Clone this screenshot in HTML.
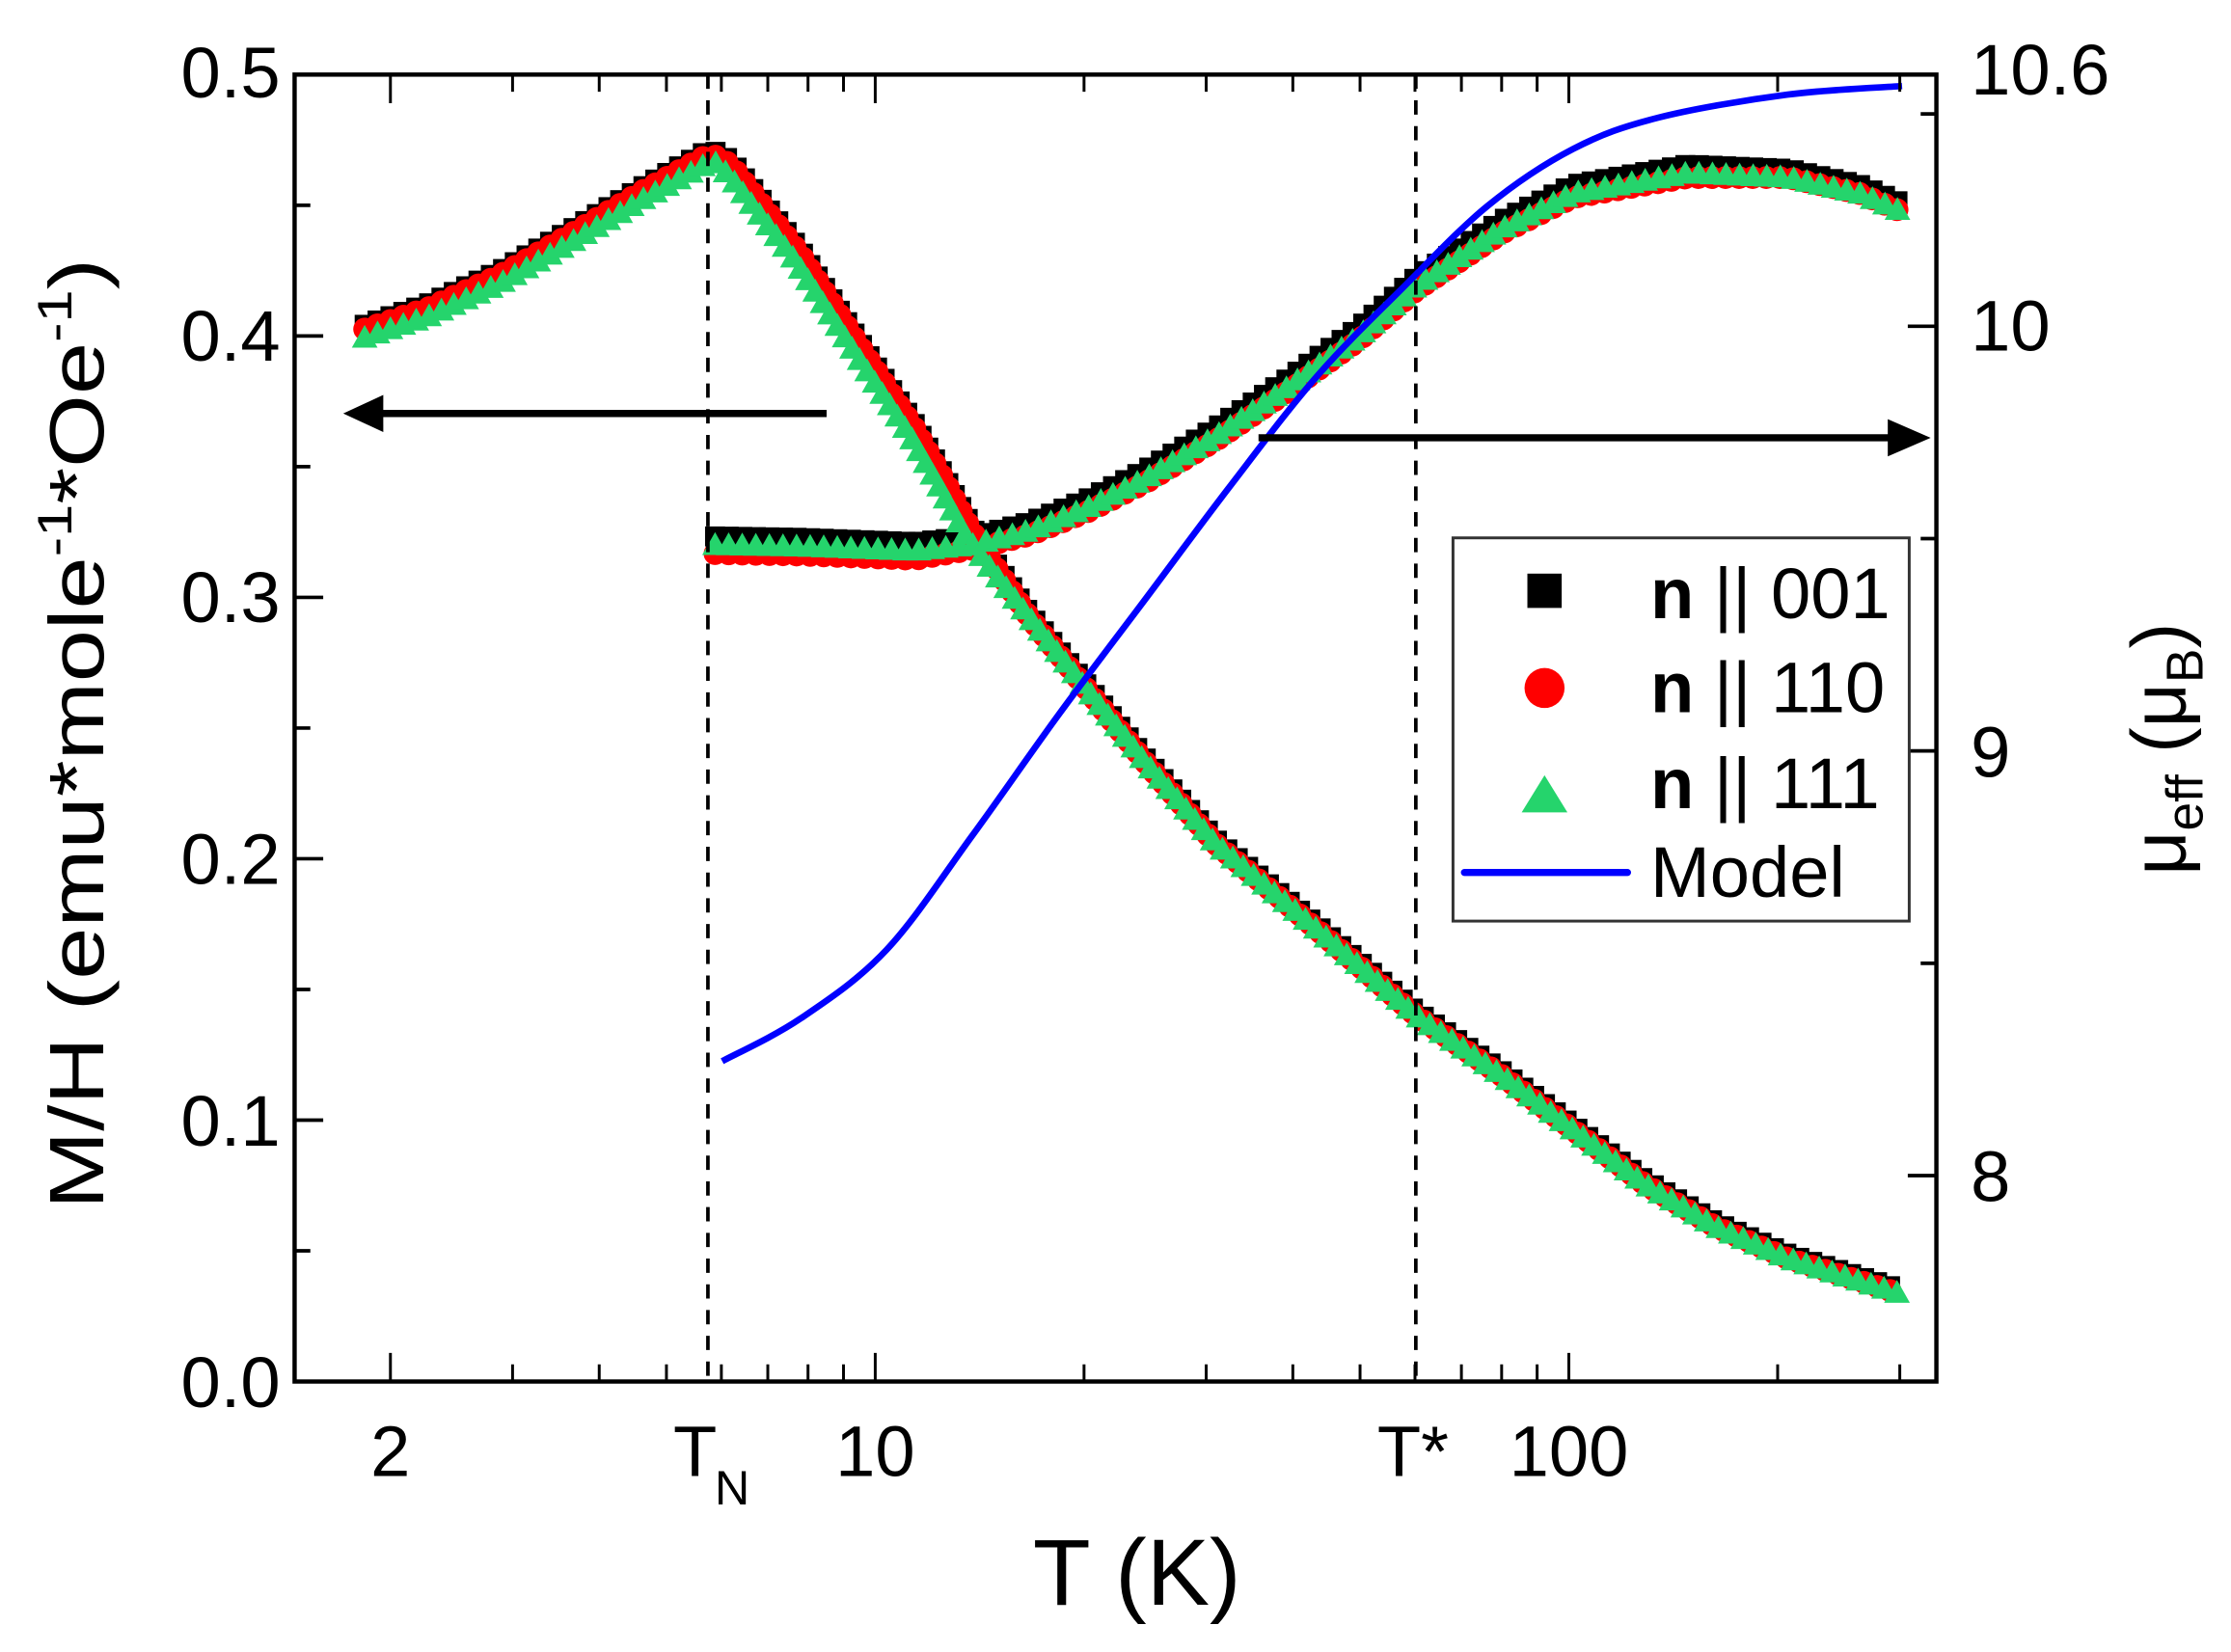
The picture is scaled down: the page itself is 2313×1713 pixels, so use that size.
<!DOCTYPE html>
<html><head><meta charset="utf-8"><style>
html,body{margin:0;padding:0;background:#fff;}
svg{display:block;}
text{font-family:"Liberation Sans",Arial,sans-serif;fill:#000;}
</style></head><body>
<svg id="s" width="2313" height="1713" viewBox="0 0 1560 1155" xmlns="http://www.w3.org/2000/svg">
<rect width="1560" height="1155" fill="#fff"/>
<g id="data"></g>
<line x1="495" y1="52" x2="495" y2="966" stroke="#000" stroke-width="2.5" stroke-dasharray="10,8"/>
<line x1="990" y1="52" x2="990" y2="966" stroke="#000" stroke-width="2.5" stroke-dasharray="10,8"/>
<g id="ticks"></g>
<rect x="206" y="52" width="1148" height="914" fill="none" stroke="#000" stroke-width="3"/>
<line x1="578" y1="289" x2="262" y2="289" stroke="#000" stroke-width="5"/>
<polygon points="240,289 268,276 268,302" fill="#000"/>
<line x1="880" y1="306" x2="1325" y2="306" stroke="#000" stroke-width="5"/>
<polygon points="1350,306 1320,293 1320,319" fill="#000"/>
<rect x="1016" y="376" width="319" height="268" fill="#fff" stroke="#333" stroke-width="2"/>
<rect x="1068" y="401" width="24" height="24" fill="#000"/>
<circle cx="1080" cy="481" r="14" fill="#f00"/>
<polygon points="1080,542 1096,568 1064,568" fill="#25d46c"/>
<line x1="1024" y1="610" x2="1138" y2="610" stroke="#0000ff" stroke-width="5" stroke-linecap="round"/>
<text x="1154" y="432" font-size="50"><tspan font-weight="bold">n</tspan> || 001</text>
<text x="1154" y="498" font-size="50"><tspan font-weight="bold">n</tspan> || 110</text>
<text x="1154" y="565" font-size="50"><tspan font-weight="bold">n</tspan> || 111</text>
<text x="1154" y="627" font-size="50">Model</text>
<g font-size="50" text-anchor="end">
<text x="196" y="68">0.5</text>
<text x="196" y="252">0.4</text>
<text x="196" y="435">0.3</text>
<text x="196" y="618">0.2</text>
<text x="196" y="801">0.1</text>
<text x="196" y="984">0.0</text>
</g>
<g font-size="50">
<text x="1378" y="66">10.6</text>
<text x="1378" y="245">10</text>
<text x="1378" y="543">9</text>
<text x="1378" y="840">8</text>
</g>
<g font-size="50" text-anchor="middle">
<text x="273" y="1032">2</text>
<text x="612" y="1032">10</text>
<text x="1097" y="1032">100</text>
<text x="988" y="1032">T*</text>
<text x="486" y="1032">T</text>
<text x="512" y="1052" font-size="34">N</text>
<text x="795" y="1122" font-size="66">T (K)</text>
</g>
<text transform="translate(72,513) rotate(-90)" font-size="54" text-anchor="middle" textLength="665" lengthAdjust="spacingAndGlyphs">M/H (emu*mole<tspan dy="-22" font-size="34">-1</tspan><tspan dy="22">*Oe</tspan><tspan dy="-22" font-size="34">-1</tspan><tspan dy="22">)</tspan></text>
<text transform="translate(1528,612) rotate(-90)" font-size="54">μ<tspan font-size="36" dy="12">eff</tspan><tspan dy="-12"> (μ</tspan><tspan font-size="36" dy="12">B</tspan><tspan dy="-12">)</tspan></text>
</svg>
<script>
var NS="http://www.w3.org/2000/svg";
function el(p,n,a){var e=document.createElementNS(NS,n);for(var k in a)e.setAttribute(k,a[k]);p.appendChild(e);return e;}
var T=document.getElementById('ticks');
function X(t){return 612+485*(Math.log10(t)-1);}
var xs=[2,3,4,5,6,7,8,9,20,30,40,50,60,70,80,90,200,300];
xs.forEach(function(t){var x=X(t);var L=(t==2)?20:12;
el(T,'line',{x1:x,y1:966,x2:x,y2:966-L,stroke:'#000','stroke-width':2});
el(T,'line',{x1:x,y1:52,x2:x,y2:52+L,stroke:'#000','stroke-width':2});});
[10,100].forEach(function(t){var x=X(t);
el(T,'line',{x1:x,y1:966,x2:x,y2:946,stroke:'#000','stroke-width':2});
el(T,'line',{x1:x,y1:52,x2:x,y2:72,stroke:'#000','stroke-width':2});});
for(var i=0;i<=10;i++){var y=966-i*0.05*1828;var L=(i%2==0)?20:11;
el(T,'line',{x1:206,y1:y,x2:206+L,y2:y,stroke:'#000','stroke-width':2.5});}
[8,8.5,9,9.5,10,10.5].forEach(function(m){var y=228-(m-10)*297;var L=(m%1==0)?20:11;
el(T,'line',{x1:1354,y1:y,x2:1354-L,y2:y,stroke:'#000','stroke-width':2.5});});
var D=document.getElementById('data');
function interp(pts,step){var out=[];var acc=0;out.push(pts[0]);
for(var i=1;i<pts.length;i++){var a=pts[i-1],b=pts[i];var dx=b[0]-a[0],dy=b[1]-a[1];var d=Math.sqrt(dx*dx+dy*dy);
var s=step-acc;while(s<=d){out.push([a[0]+dx*s/d,a[1]+dy*s/d]);s+=step;}acc=d-(s-step);}
return out;}
var mh=[[255,230],[300,215],[350,192],[400,163],[450,133],[495,108],[505,110],[515,120],[560,178],[600,240],[640,300],[660,335],[680,372],[720,432],[760,482],[800,532],[850,590],[900,632],[950,675],[990,710],[1050,752],[1100,790],[1150,828],[1200,858],[1250,880],[1330,905]];
var mu=[[500,378],[560,379],[640,382],[680,378],[720,368],[760,352],[800,332],[850,302],[900,268],[950,232],[990,197],[1050,157],[1100,132],[1180,118],[1250,121],[1300,132],[1330,145]];
var muR=mu.map(function(p){var off=(p[0]>480&&p[0]<1200)?6:3;if(p[0]<660)off=9;return [p[0],p[1]+off];});
var mhG=mh.map(function(p){var off=p[0]<500?6:(p[0]<700?4:0);return [p[0]-(p[0]>500&&p[0]<700?4:0),p[1]+off];});
var muG=mu.map(function(p){return [p[0],p[1]+3];});
var ST=9.5;
function sq(pts,dy){interp(pts,ST).forEach(function(p){el(D,'rect',{x:p[0]-7,y:p[1]-7+dy,width:14,height:14,fill:'#000'});});}
function ci(pts,dy){interp(pts,ST).forEach(function(p){el(D,'circle',{cx:p[0],cy:p[1]+dy,r:8,fill:'#f00'});});}
function tr(pts,dy){interp(pts,ST).forEach(function(p){var x=p[0],y=p[1]+dy;el(D,'polygon',{points:(x)+','+(y-9)+' '+(x+9)+','+(y+7)+' '+(x-9)+','+(y+7),fill:'#25d46c'});});}
sq(mh,-3);sq(mu,-3);
ci(mh,0);ci(muR,0);
tr(mhG,0);tr(muG,0);
var md=[[505,742],[560,712],[620,664],[680,584],[740,500],[800,420],[860,340],[920,264],[980,202],[1040,144],[1100,104],[1160,82],[1250,66],[1330,60]];
var d='M'+md[0][0]+','+md[0][1];
for(var i=1;i<md.length;i++){var p0=md[Math.max(0,i-2)],p1=md[i-1],p2=md[i],p3=md[Math.min(md.length-1,i+1)];
d+=' C'+(p1[0]+(p2[0]-p0[0])/6)+','+(p1[1]+(p2[1]-p0[1])/6)+' '+(p2[0]-(p3[0]-p1[0])/6)+','+(p2[1]-(p3[1]-p1[1])/6)+' '+p2[0]+','+p2[1];}
el(D,'path',{d:d,fill:'none',stroke:'#0000ff','stroke-width':4.5});
</script>
</body></html>
